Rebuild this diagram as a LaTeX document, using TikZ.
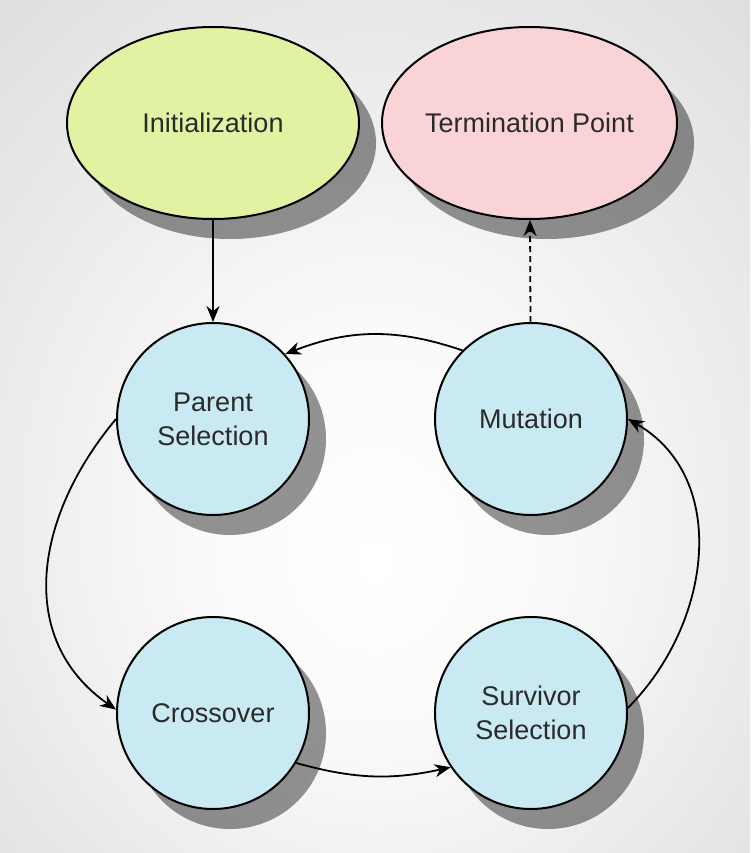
\documentclass[tikz,border=0pt]{standalone}
\usepackage{fontspec}
\setmainfont{Liberation Sans}
\usetikzlibrary{arrows.meta,positioning,shapes.geometric,shadows}
\pgfdeclareradialshading{paper}{\pgfpoint{0bp}{-8bp}}{color(0bp)=(white); color(12bp)=(white!98!black); color(62bp)=(black!23)}
\definecolor{initgreen}{HTML}{E1F3A3}
\definecolor{termpink}{HTML}{FAD3D7}
\definecolor{stepblue}{HTML}{C9EAF3}
\definecolor{labelgray}{HTML}{2A2A2A}

\begin{document}
\begin{tikzpicture}[x=1pt, y=1pt,
      stage/.style={draw=black, line width=2pt, font=\fontsize{27}{34}\selectfont,
        text=labelgray, align=center, inner sep=0pt,
        drop shadow={shadow xshift=17pt, shadow yshift=-20pt, fill=black, opacity=0.42}},
      endpoint/.style={stage, ellipse, minimum width=292pt, minimum height=192pt},
      loopstage/.style={stage, circle, minimum size=192pt, fill=stepblue},
      arrow/.style={-{Stealth[length=16pt, width=13pt]}, line width=1.8pt}
    ]
    \shade[shading=paper] (0,0) rectangle (750,-853);
    \useasboundingbox (0,0) rectangle (750,-853);

    \node[endpoint, fill=initgreen] (init) at (213,-123) {Initialization};
    \node[endpoint, fill=termpink, right=21pt of init] (term) {Termination Point};

    \node[loopstage, below=102pt of init] (parent) {Parent\\Selection};
    \node[loopstage, right=124pt of parent] (mutation) {Mutation};
    \node[loopstage, below=100pt of parent] (crossover) {Crossover};
    \node[loopstage, right=124pt of crossover] (survivor) {Survivor\\Selection};

    \draw[arrow] (init) -- (parent);
    \draw[arrow, dash pattern=on 6pt off 4pt] (mutation) -- (term);
    \draw[arrow] (mutation.135) to[bend right=20] (parent.42);
    \draw[arrow] (parent.west) to[out=230, in=145, looseness=1.1] (crossover.178);
    \draw[arrow] (crossover.-31) to[bend right=14] (survivor.214);
    \draw[arrow] (survivor.3) to[out=45, in=-30, looseness=1.05] (mutation.east);
  \end{tikzpicture}
\end{document}
